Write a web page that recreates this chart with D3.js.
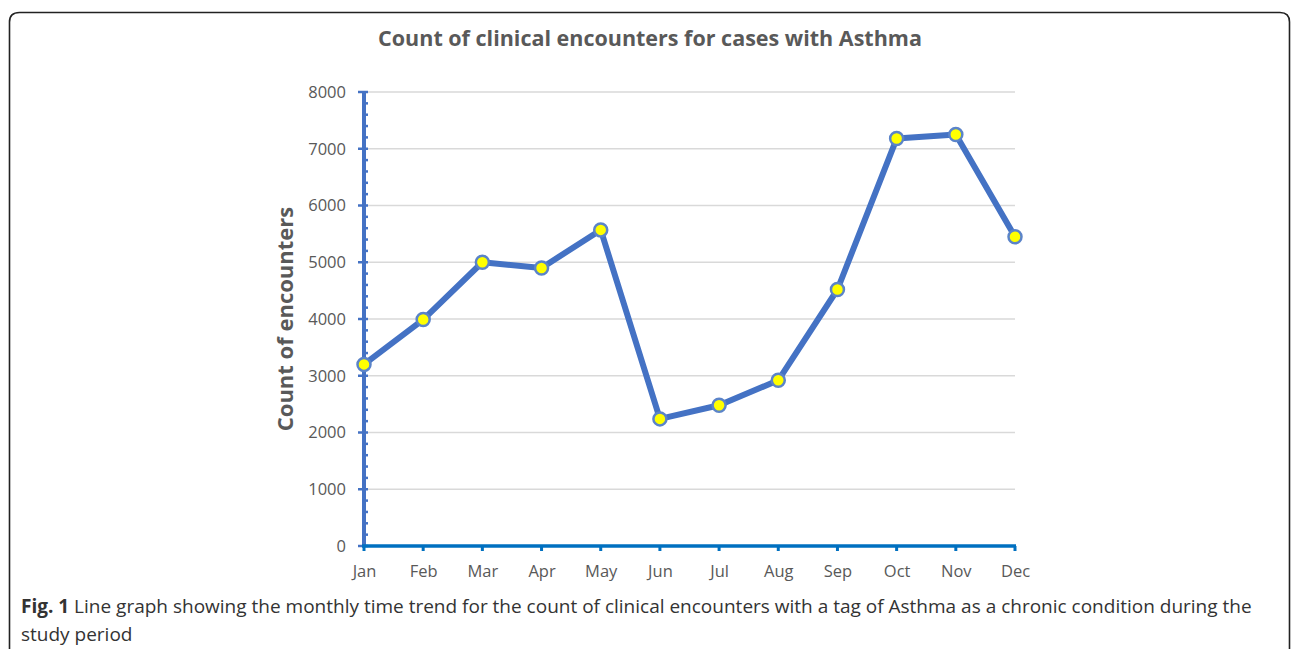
<!DOCTYPE html>
<html><head><meta charset="utf-8">
<script src="https://cdn.jsdelivr.net/npm/d3@7"></script>
<style>
body{margin:0;background:#fff;}
svg{display:block;}
</style></head>
<body>
<svg id="c" width="1292" height="649"></svg>
<script>
const months = ["Jan","Feb","Mar","Apr","May","Jun","Jul","Aug","Sep","Oct","Nov","Dec"];
const counts = [3200,3990,5000,4900,5570,2240,2480,2920,4520,7180,7250,5450];
const yTicks = [0,1000,2000,3000,4000,5000,6000,7000,8000];
const minorTicks = d3.range(0,8001,200);
const titleText = "Count of clinical encounters for cases with Asthma";
const yLabel = "Count of encounters";
const captionBold = "Fig. 1";
const captionLine1 = " Line graph showing the monthly time trend for the count of clinical encounters with a tag of Asthma as a chronic condition during the";
const captionLine2 = "study period";

const svg = d3.select("#c");
const font = "'Open Sans', sans-serif";

// border
svg.append("path")
  .attr("d","M9.5,660 L9.5,22 Q9.5,12.5 19.5,12.5 L1280,12.5 Q1289.5,12.5 1289.5,22 L1289.5,660")
  .attr("fill","none").attr("stroke","#222").attr("stroke-width",1.6);

const x = d3.scalePoint().domain(months).range([364,1015]);
const y = d3.scaleLinear().domain([0,8000]).range([546,92]);

// gridlines
svg.append("g").selectAll("line").data(yTicks.filter(d=>d>0)).join("line")
  .attr("x1",364).attr("x2",1015).attr("y1",d=>y(d)).attr("y2",d=>y(d))
  .attr("stroke","#d9d9d9").attr("stroke-width",1.3);

// y axis
const yAxis = svg.append("g").attr("transform","translate(364,0)")
  .call(d3.axisLeft(y).tickValues(yTicks).tickFormat(d3.format("d")).tickSize(0).tickPadding(18));
yAxis.select(".domain").remove();
yAxis.selectAll("text").attr("font-family",font).attr("font-size",16.5).attr("fill","#595959");
svg.append("g").selectAll("line").data(minorTicks).join("line")
  .attr("x1",d=> d%1000===0 ? 358 : 364).attr("x2",368)
  .attr("y1",d=>y(d)).attr("y2",d=>y(d))
  .attr("stroke","#4472C4").attr("stroke-width",2.5);
svg.append("line").attr("x1",364).attr("x2",364).attr("y1",y(8000)-1).attr("y2",y(0))
  .attr("stroke","#4472C4").attr("stroke-width",4);

// x axis
const xAxis = svg.append("g").attr("transform","translate(0,546)")
  .call(d3.axisBottom(x).tickSize(0).tickPadding(19));
xAxis.select(".domain").remove();
xAxis.selectAll("text").attr("font-family",font).attr("font-size",16.5).attr("fill","#595959");
svg.append("g").selectAll("line").data(months).join("line")
  .attr("x1",d=>x(d)).attr("x2",d=>x(d)).attr("y1",546).attr("y2",551)
  .attr("stroke","#0070C0").attr("stroke-width",3);
svg.append("line").attr("x1",362).attr("x2",1016).attr("y1",546).attr("y2",546)
  .attr("stroke","#0070C0").attr("stroke-width",3.5);

// line
const line = d3.line().x((d,i)=>x(months[i])).y(d=>y(d));
svg.append("path").datum(counts).attr("d",line)
  .attr("fill","none").attr("stroke","#4472C4").attr("stroke-width",6).attr("stroke-linejoin","round");

svg.append("g").selectAll("circle").data(counts).join("circle")
  .attr("cx",(d,i)=>x(months[i])).attr("cy",d=>y(d)).attr("r",6.5)
  .attr("fill","#FFFF00").attr("stroke","#5B84C9").attr("stroke-width",2.5);

// title
svg.append("text").attr("x",650).attr("y",46).attr("text-anchor","middle")
  .attr("font-family",font).attr("font-weight","bold").attr("font-size",21.5)
  .attr("fill","#595959").text(titleText);

// y label
svg.append("text").attr("transform","translate(293,319) rotate(-90)").attr("text-anchor","middle")
  .attr("font-family",font).attr("font-weight","bold").attr("font-size",22)
  .attr("fill","#595959").text(yLabel);

// caption
const cap = svg.append("text").attr("x",21).attr("y",613)
  .attr("font-family",font).attr("font-size",19).attr("fill","#333");
cap.append("tspan").attr("font-weight","bold").text(captionBold);
cap.append("tspan").text(captionLine1);
svg.append("text").attr("x",21).attr("y",641)
  .attr("font-family",font).attr("font-size",19).attr("fill","#333").text(captionLine2);
</script>
</body></html>
